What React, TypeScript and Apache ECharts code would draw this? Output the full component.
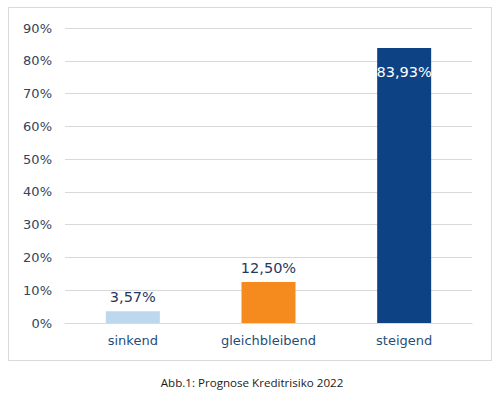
import React, { useEffect, useRef } from "react";
import * as echarts from "echarts";

const categories = ["sinkend", "gleichbleibend", "steigend"];
const values = [3.57, 12.5, 83.93];
const barColors = ["#bdd7ee", "#f58b1f", "#0d4384"];
const yTicks = { min: 0, max: 90, interval: 10 };
const caption = "Abb.1: Prognose Kreditrisiko 2022";

const fmt = (v: number) => v.toFixed(2).replace(".", ",") + "%";

export default function App() {
  const ref = useRef<HTMLDivElement>(null);
  useEffect(() => {
    if (!ref.current) return;
    const chart = echarts.init(ref.current, null, { renderer: "svg" });
    chart.setOption({
      animation: false,
      backgroundColor: "#ffffff",
      grid: { left: 65, right: 28, top: 28, bottom: 70 },
      graphic: [
        {
          type: "rect",
          shape: { x: 8.5, y: 7.5, width: 483, height: 353 },
          style: { fill: "none", stroke: "#d9d9d9", lineWidth: 1 },
          z: -1,
        },
        {
          type: "text",
          x: 252,
          y: 382,
          style: {
            text: caption,
            fontFamily: "Open Sans",
            fontSize: 11.6,
            fill: "#1a1a1a",
            align: "center",
            verticalAlign: "middle",
          },
        },
      ],
      xAxis: {
        type: "category",
        data: categories,
        axisTick: { show: false },
        axisLine: { lineStyle: { color: "#d9d9d9", width: 1 } },
        axisLabel: {
          color: "#1f4e79",
          fontFamily: "DejaVu Sans",
          fontSize: 13,
          margin: 11,
        },
      },
      yAxis: {
        type: "value",
        min: yTicks.min,
        max: yTicks.max,
        interval: yTicks.interval,
        axisLine: { show: false },
        axisTick: { show: false },
        splitLine: { lineStyle: { color: "#d9d9d9", width: 1 } },
        axisLabel: {
          formatter: (v: number) => v + "%",
          color: "#34445a",
          fontFamily: "DejaVu Sans",
          fontSize: 13,
          margin: 13,
        },
      },
      series: [
        {
          type: "bar",
          barWidth: 54,
          data: values.map((v, i) => ({
            value: v,
            itemStyle: { color: barColors[i] },
            label:
              i === 2
                ? {
                    show: true,
                    position: "insideTop",
                    distance: 17,
                    color: "#ffffff",
                  }
                : { show: true, position: "top", distance: 7, color: "#1f3864" },
          })),
          label: {
            show: true,
            fontFamily: "DejaVu Sans",
            fontSize: 14.5,
            formatter: (p: any) => fmt(p.value),
          },
        },
      ],
    });
    return () => chart.dispose();
  }, []);
  return (
    <div
      ref={ref}
      style={{ position: "absolute", left: 0, top: 0, width: 500, height: 393 }}
    />
  );
}
